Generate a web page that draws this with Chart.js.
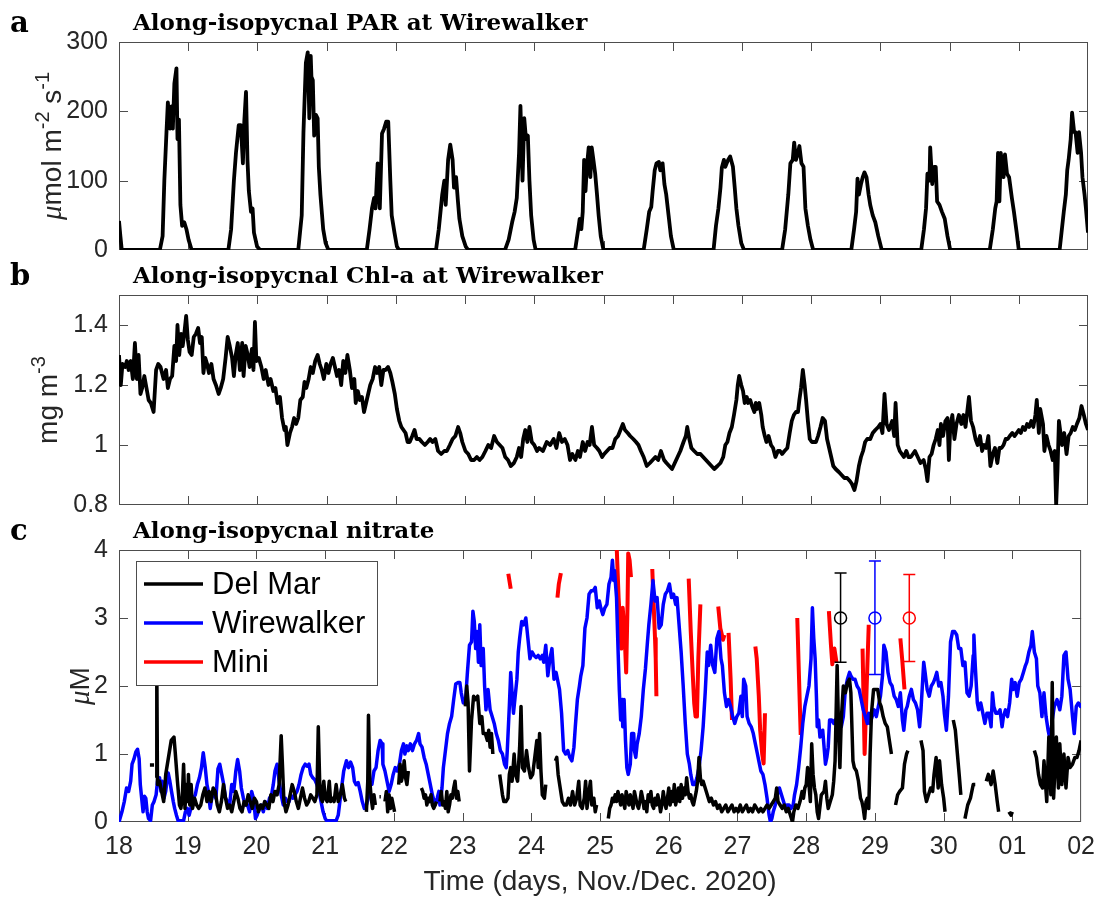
<!DOCTYPE html>
<html>
<head>
<meta charset="utf-8">
<script src="https://cdn.jsdelivr.net/npm/chart.js"></script>
<style>
  body { margin: 0; background: #fff; width: 1105px; height: 898px; overflow: hidden; position: relative; }
  canvas { position: absolute; left: 0; top: 0; }
</style>
</head>
<body>
<canvas id="pa" width="1105" height="898"></canvas>
<canvas id="pb" width="1105" height="898"></canvas>
<canvas id="pc" width="1105" height="898"></canvas>
<script>
// time axis: days since 18 Nov 2020
const dayLabels = ["18","19","20","21","22","23","24","25","26","27","28","29","30","01","02"]

// (a) PAR, umol m-2 s-1
const parTime = [0,0.02,0.04,
  0.59,0.63,0.655,0.686,0.706,0.737,0.758,0.778,0.80,0.83,0.845,0.866,0.887,0.912,0.943,0.974,1.005,1.05,
  1.58,1.62,1.66,1.69,1.73,1.76,1.79,1.81,1.835,1.856,1.876,1.907,1.93,1.95,1.995,2.04,
  2.59,2.64,2.665,2.70,2.727,2.75,2.77,2.78,2.80,2.82,2.845,2.87,2.887,2.91,2.95,2.985,3.026,
  3.58,3.62,3.655,3.686,3.706,3.737,3.768,3.80,3.83,3.86,3.89,3.92,3.94,3.98,4.015,4.046,
  4.58,4.62,4.67,4.70,4.72,4.755,4.786,4.82,4.84,4.87,4.897,4.918,4.96,5.01,5.046,
  5.577,5.63,5.68,5.716,5.747,5.78,5.80,5.83,5.855,5.88,5.907,5.93,5.955,5.99,6.02,
  6.59,6.635,6.656,6.68,6.70,6.72,6.74,6.76,6.786,6.81,6.83,6.854,6.88,6.906,6.93,6.96,7.0,
  7.58,7.625,7.66,7.69,7.71,7.74,7.766,7.80,7.82,7.854,7.88,7.906,7.94,7.974,8.016,
  8.59,8.625,8.66,8.69,8.71,8.74,8.76,8.80,8.83,8.87,8.896,8.92,8.95,8.99,9.03,
  9.58,9.625,9.67,9.70,9.734,9.755,9.78,9.81,9.83,9.86,9.89,9.917,9.953,9.99,10.03,
  10.58,10.62,10.65,10.67,10.69,10.72,10.745,10.77,10.80,10.83,10.854,10.89,10.927,10.97,11.02,
  11.59,11.63,11.66,11.68,11.71,11.72,11.75,11.776,11.80,11.82,11.854,11.89,11.93,11.97,12.01,
  12.58,12.625,12.66,12.68,12.70,12.72,12.74,12.78,12.80,12.83,12.86,12.90,12.93,12.97,13.0,
  13.59,13.65,13.68,13.70,13.72,13.75,13.77,13.80,13.82,13.85,13.87,13.90,13.92,13.95,13.97,14.0]
const parValue = [42,20,0,
  0,20,100,170,213,175,207,175,240,262,160,188,65,35,40,30,15,0,
  0,30,100,140,180,180,125,185,228,130,85,55,60,25,5,0,
  0,50,170,270,285,190,280,250,245,165,195,190,120,80,30,10,0,
  0,30,60,75,60,125,60,168,175,185,185,100,50,25,5,0,
  0,30,80,100,65,130,152,130,90,105,70,45,20,5,0,
  0,15,40,55,75,140,208,100,190,160,165,100,50,15,0,
  0,30,45,30,55,130,85,120,148,105,148,130,110,80,50,20,0,
  0,30,55,62,85,115,125,127,115,125,95,80,50,20,0,
  0,35,60,90,119,130,120,130,135,120,90,60,35,10,0,
  0,30,80,125,130,155,130,140,150,125,120,60,35,15,0,
  0,30,55,103,80,95,105,112,105,80,65,50,40,20,0,
  0,30,60,110,100,148,95,120,120,70,65,55,45,20,0,
  0,30,60,70,140,70,140,105,138,110,105,75,55,25,0,
  0,55,80,115,130,160,198,170,170,140,170,140,105,80,60,25]

// (b) Chl-a, mg m-3
const chlTime = [0,0.026,0.05,0.088,0.113,0.14,0.17,0.20,0.23,0.258,0.283,0.31,0.335,0.366,0.397,0.428,0.46,0.50,
  0.536,0.567,0.60,0.644,0.68,0.706,0.737,0.768,0.80,0.825,0.845,0.87,0.897,0.92,0.943,0.97,0.995,1.02,1.05,
  1.08,1.11,1.144,1.17,1.196,1.22,1.247,1.273,1.30,1.335,1.366,1.40,1.44,1.47,1.505,1.54,1.57,1.60,1.634,
  1.66,1.686,1.716,1.747,1.78,1.80,1.83,1.86,1.887,1.92,1.943,1.964,1.985,2.02,2.057,2.09,2.12,2.16,2.19,
  2.23,2.26,2.29,2.325,2.356,2.39,2.41,2.433,2.47,2.50,2.53,2.56,2.59,2.62,2.655,2.68,2.706,2.74,2.77,2.80,
  2.835,2.87,2.90,2.93,2.96,2.995,3.026,3.057,3.09,3.12,3.15,3.18,3.21,3.24,3.27,3.30,3.335,3.366,3.40,3.42,
  3.45,3.48,3.51,3.54,3.57,3.60,3.63,3.665,3.70,3.727,3.76,3.79,3.82,3.85,3.887,3.92,3.95,3.985,4.015,4.05,
  4.08,4.11,4.14,4.17,4.20,4.237,4.27,4.30,4.34,4.376,4.42,4.46,4.495,4.53,4.57,4.61,4.655,4.70,4.737,4.78,
  4.82,4.86,4.90,4.93,4.96,5.005,5.046,5.087,5.13,5.17,5.21,5.25,5.294,5.335,5.376,5.42,5.46,5.50,5.54,5.58,
  5.62,5.66,5.706,5.747,5.78,5.81,5.84,5.87,5.90,5.93,5.964,6.0,6.04,
  6.07,6.125,6.18,6.23,6.28,6.32,6.36,6.40,6.44,6.48,6.516,6.55,6.594,6.63,6.66,6.70,6.734,6.77,6.80,6.833,
  6.865,6.906,6.94,6.98,7.01,7.05,7.09,7.13,7.17,7.21,7.245,7.28,7.31,7.35,7.385,7.43,7.47,7.505,7.54,7.58,
  7.625,7.67,7.71,7.75,7.79,7.83,7.875,7.91,7.95,7.99,8.03,8.07,8.11,8.156,8.19,8.21,8.24,8.27,8.31,8.354,
  8.40,8.44,8.48,8.52,8.56,8.60,8.646,8.69,8.73,8.76,8.79,8.82,8.854,8.885,8.92,8.94,8.96,8.99,9.016,9.04,
  9.07,9.09,9.12,9.146,9.18,9.20,9.22,9.25,9.28,9.30,9.33,9.354,9.385,9.42,9.45,9.484,9.52,9.55,9.58,9.615,
  9.656,9.69,9.72,9.75,9.78,9.81,9.83,9.854,9.88,9.906,9.927,9.953,9.98,10.01,10.04,10.07,10.10,10.135,10.166,10.20,
  10.23,10.26,10.29,10.32,10.354,10.40,10.44,10.48,10.52,10.56,10.59,10.625,10.656,10.69,10.72,10.75,10.78,10.81,10.854,10.89,
  10.927,10.97,11.0,11.03,11.06,11.09,11.125,11.17,11.20,11.22,11.25,11.28,11.31,11.34,11.375,11.406,11.44,11.47,11.50,11.54,
  11.58,11.625,11.656,11.68,11.71,11.74,11.77,11.80,11.83,11.854,11.875,11.906,11.94,11.97,11.99,12.01,12.04,12.07,12.10,12.135,
  12.17,12.20,12.23,12.26,12.28,12.31,12.34,12.375,12.406,12.44,12.47,12.50,12.53,12.56,12.59,12.625,12.656,12.69,12.72,12.75,
  12.78,12.81,12.84,12.87,12.906,12.94,12.97,13.0,13.03,13.06,13.09,13.12,13.15,13.18,13.21,13.24,13.26,13.29,13.31,13.35,
  13.37,13.40,13.43,13.46,13.49,13.52,13.54,13.56,13.58,13.625,13.656,13.69,13.72,13.75,13.78,13.81,13.84,13.875,13.906,13.94,
  13.97,14.0]
const chlValue = [1.30,1.20,1.27,1.26,1.28,1.25,1.28,1.22,1.34,1.22,1.30,1.17,1.19,1.23,1.19,1.15,1.14,1.11,
  1.25,1.27,1.26,1.22,1.25,1.19,1.22,1.23,1.33,1.28,1.40,1.30,1.37,1.33,1.37,1.43,1.35,1.31,1.30,
  1.36,1.37,1.39,1.34,1.36,1.24,1.29,1.27,1.24,1.27,1.22,1.20,1.17,1.19,1.22,1.29,1.36,1.33,1.29,
  1.23,1.30,1.34,1.25,1.34,1.23,1.33,1.30,1.26,1.32,1.25,1.41,1.28,1.29,1.26,1.22,1.25,1.20,1.22,
  1.18,1.19,1.14,1.16,1.09,1.05,1.06,1.00,1.04,1.06,1.09,1.07,1.09,1.15,1.16,1.21,1.19,1.22,1.26,1.24,
  1.28,1.30,1.27,1.25,1.22,1.27,1.24,1.27,1.29,1.26,1.23,1.25,1.20,1.28,1.24,1.30,1.25,1.19,1.22,1.14,
  1.18,1.15,1.16,1.11,1.14,1.17,1.20,1.22,1.26,1.24,1.26,1.20,1.25,1.25,1.26,1.24,1.21,1.17,1.12,1.08,
  1.06,1.05,1.04,1.01,1.01,1.03,1.05,1.02,1.02,1.01,1.00,1.01,1.02,1.01,1.02,0.98,0.97,0.98,0.98,1.00,
  1.02,1.03,1.06,1.04,1.01,0.98,0.97,0.95,0.95,0.96,0.95,0.96,0.98,1.00,0.99,1.03,1.01,1.00,0.99,0.96,
  0.95,0.93,0.94,0.96,0.99,0.96,1.02,1.05,1.01,1.06,1.01,1.00,0.98,
  0.99,0.98,1.01,1.00,1.02,0.99,1.04,1.01,1.02,1.00,0.95,0.97,0.95,0.98,0.96,1.01,0.98,1.01,1.00,1.06,
  1.00,0.99,0.98,0.96,0.97,0.98,0.99,0.99,1.02,1.03,1.05,1.07,1.05,1.04,1.03,1.02,1.01,1.00,0.98,0.96,
  0.93,0.94,0.95,0.96,0.95,0.98,0.95,0.94,0.93,0.92,0.94,0.96,0.98,1.01,1.03,1.06,1.02,0.99,0.98,0.97,
  0.97,0.96,0.95,0.94,0.93,0.92,0.93,0.94,0.96,1.00,1.01,1.04,1.06,1.10,1.15,1.20,1.23,1.20,1.18,1.14,
  1.16,1.14,1.15,1.13,1.11,1.14,1.12,1.14,1.10,1.06,1.03,1.01,1.03,1.00,0.99,0.96,0.98,0.98,0.97,0.98,
  0.99,1.04,1.08,1.10,1.11,1.11,1.15,1.19,1.25,1.20,1.15,1.08,1.02,1.01,1.01,1.01,1.03,1.06,1.09,1.08,
  1.02,0.99,0.96,0.93,0.92,0.91,0.90,0.89,0.89,0.88,0.87,0.85,0.88,0.93,0.96,0.98,1.01,1.02,1.02,1.04,
  1.05,1.06,1.07,1.04,1.17,1.07,1.05,1.08,1.03,1.14,1.00,0.98,0.97,0.96,0.98,0.96,0.96,0.97,0.98,0.96,
  0.94,0.95,0.92,0.88,0.96,0.97,1.00,1.02,1.05,1.00,1.07,1.03,1.08,1.09,0.95,1.06,1.10,1.02,1.07,1.10,
  1.07,1.10,1.06,1.12,1.16,1.08,1.06,1.02,1.00,1.03,0.98,1.00,0.99,1.03,0.93,0.97,0.99,0.94,0.99,0.99,
  1.00,1.02,1.02,1.03,1.04,1.03,1.04,1.05,1.04,1.06,1.05,1.07,1.06,1.08,1.06,1.10,1.15,1.04,1.12,1.07,
  0.98,1.03,1.00,0.98,0.95,0.98,0.80,0.92,1.08,1.00,1.04,0.97,1.03,1.04,1.06,1.05,1.07,1.09,1.13,1.10,
  1.07,1.05]

// (c) nitrate, uM  (null = no data)
const delMarTime = [0.45,0.51,0.52,
  0.54,0.55,0.56,0.59,0.62,0.65,0.68,0.72,0.76,0.80,0.82,0.85,0.88,0.90,0.92,0.94,0.96,0.98,1.00,1.01,1.03,1.05,1.07,
  1.10,1.13,1.16,1.19,1.22,1.25,1.28,1.31,1.34,1.37,1.40,1.43,1.46,1.49,1.52,1.55,1.58,1.61,1.64,1.67,1.70,1.73,1.76,
  1.79,1.82,1.85,1.88,1.91,1.94,1.97,2.00,2.03,2.06,2.09,2.12,2.15,2.18,2.21,2.24,2.27,2.30,2.33,2.36,2.38,2.40,2.43,
  2.46,2.49,2.52,2.55,2.58,2.61,2.64,2.67,2.70,2.73,2.76,2.79,2.82,2.85,2.88,2.90,2.92,2.94,2.96,2.98,3.00,3.03,3.06,
  3.08,3.10,3.13,3.16,3.19,3.22,3.25,3.28,3.30,3.31,
  3.60,3.62,3.63,3.65,3.67,3.69,3.71,3.73,3.74,
  3.79,3.81,3.82,
  3.87,3.89,3.91,3.93,3.95,3.97,3.99,4.01,4.02,
  4.07,4.09,4.11,4.13,4.15,4.17,4.19,4.21,4.22,
  4.40,4.42,4.44,4.46,4.48,4.50,4.52,4.54,4.56,4.58,4.60,4.62,4.63,
  4.67,4.69,4.71,4.73,4.75,4.77,4.79,4.81,4.83,4.85,4.87,4.89,4.91,4.93,4.95,4.96,
  5.04,5.06,5.08,5.10,5.13,5.16,5.19,5.22,5.25,5.28,5.30,5.33,5.36,5.38,5.40,5.42,5.44,5.45,
  5.54,5.56,5.58,5.60,5.63,5.66,5.68,5.70,5.72,5.75,5.77,5.80,5.83,5.85,5.87,5.90,5.93,5.96,5.99,6.02,6.05,6.08,
  6.10,6.12,6.14,6.16,6.19,6.21,6.22,
  6.35,6.37,6.39,6.42,6.45,6.48,6.51,6.54,6.57,6.60,6.63,6.66,6.69,6.71,6.74,6.77,6.79,6.81,6.84,6.86,6.88,6.91,
  6.93,6.95,6.96,
  7.12,7.14,7.16,7.18,7.20,7.22,7.24,7.26,7.28,7.30,7.32,7.34,7.36,7.38,7.40,7.42,7.44,7.46,7.48,7.50,7.52,7.54,
  7.56,7.58,7.60,7.62,7.64,7.66,7.68,7.70,7.72,7.74,7.76,7.78,7.80,7.82,7.84,7.86,7.88,7.90,7.92,7.94,7.96,7.98,
  8.00,8.02,8.04,8.06,8.08,8.10,8.12,8.14,8.16,8.18,8.20,8.22,8.24,8.26,8.28,8.30,8.32,8.34,8.36,8.38,8.40,8.42,
  8.44,8.46,8.48,8.50,8.53,8.56,8.59,8.62,8.65,8.68,8.71,8.74,8.77,8.80,8.83,8.86,8.89,8.92,8.95,8.98,9.01,9.04,
  9.07,9.10,9.13,9.16,9.19,9.22,9.25,9.28,9.31,9.34,9.37,9.40,9.43,9.46,9.49,9.52,9.55,9.57,9.59,9.62,9.65,9.68,
  9.71,9.74,9.77,9.80,9.82,9.85,9.88,9.91,9.94,9.96,9.98,10.00,10.02,10.04,10.06,10.08,10.10,10.12,10.14,10.16,
  10.18,10.22,10.26,10.28,10.30,10.32,10.35,10.38,10.40,10.42,10.45,10.47,10.49,10.51,10.54,10.57,10.60,10.63,
  10.65,10.68,10.70,10.73,10.76,10.79,10.81,10.83,10.85,10.87,10.89,10.91,10.93,10.95,10.98,11.02,11.04,11.07,
  11.09,11.12,11.15,11.18,11.21,11.24,11.25,
  11.30,11.33,11.36,11.40,11.43,11.46,11.48,11.49,
  11.67,11.70,11.72,11.75,11.78,11.81,11.84,11.86,11.89,11.92,11.94,11.97,12.00,12.02,12.03,
  12.14,12.17,12.20,12.23,12.25,12.26,
  12.31,12.35,12.39,12.43,12.46,12.47,
  12.62,12.65,12.69,12.72,12.75,12.78,12.80,12.81,
  12.95,12.98,13.00,13.01,
  13.32,13.35,13.38,13.41,13.44,13.46,13.50,13.53,13.56,13.58,13.60,13.64,13.67,13.69,13.72,13.75,13.78,13.81,
  13.84,13.875,13.91,13.94,13.97,14.0]
const delMarValue = [0.84,0.84,null,
  0.65,2.30,0.55,0.60,0.45,0.30,0.70,0.95,1.20,1.25,1.00,0.60,0.25,0.20,0.35,0.85,0.20,0.55,0.30,0.70,0.25,0.55,0.20,
  0.35,0.25,0.20,0.25,0.40,0.50,0.30,0.45,0.30,0.50,0.45,0.25,0.15,0.30,0.55,0.35,0.20,0.25,0.15,0.30,0.45,0.35,0.20,
  0.15,0.30,0.25,0.40,0.30,0.20,0.35,0.30,0.15,0.25,0.20,0.30,0.25,0.20,0.40,0.30,0.45,0.40,0.55,1.27,0.80,0.30,0.15,
  0.25,0.40,0.55,0.45,0.30,0.20,0.35,0.50,0.35,0.25,0.30,0.40,0.35,0.30,0.40,1.40,0.60,0.35,0.30,0.60,0.35,0.30,0.60,
  0.30,0.35,0.30,0.55,0.30,0.40,0.55,0.35,0.30,null,
  0.15,0.60,1.57,0.60,0.35,0.20,0.40,0.25,null,
  0.37,0.37,null,
  0.30,0.45,0.15,0.40,0.20,0.35,0.25,0.15,null,
  0.55,0.85,0.60,0.70,0.90,0.65,0.55,0.75,null,
  0.50,0.45,0.35,0.40,0.25,0.35,0.30,0.40,0.25,0.20,0.25,0.30,null,
  0.30,0.45,0.25,0.30,0.20,0.45,0.15,0.25,0.40,0.35,0.50,0.60,0.35,0.45,0.30,null,
  1.70,2.00,1.75,0.75,1.50,1.85,1.80,1.85,1.45,1.55,1.30,1.30,1.20,1.35,1.10,1.30,1.00,null,
  0.70,0.55,0.40,0.30,0.30,0.35,0.70,0.80,0.60,1.00,0.70,0.60,1.10,1.70,0.80,0.75,1.05,0.80,0.65,0.70,0.95,1.20,
  0.80,1.30,0.75,0.40,0.35,0.55,null,
  0.90,0.95,0.70,0.50,0.30,0.25,0.25,0.35,0.25,0.45,0.25,0.35,0.60,0.25,0.20,0.35,0.60,0.20,0.45,0.60,0.25,0.35,
  0.15,0.25,null,
  0.05,0.20,0.25,0.35,0.30,0.40,0.30,0.45,0.35,0.25,0.40,0.30,0.20,0.45,0.35,0.25,0.40,0.30,0.20,0.45,0.35,0.25,
  0.20,0.30,0.45,0.35,0.20,0.30,0.15,0.40,0.30,0.45,0.25,0.20,0.35,0.25,0.40,0.30,0.15,0.25,0.45,0.30,0.20,0.35,
  0.50,0.25,0.45,0.30,0.55,0.25,0.35,0.50,0.30,0.55,0.35,0.50,0.40,0.65,0.45,0.35,0.40,0.30,0.25,0.35,0.45,0.60,
  0.95,0.65,0.55,0.60,0.50,0.40,0.30,0.35,0.25,0.30,0.20,0.25,0.15,0.20,0.25,0.15,0.20,0.25,0.15,0.20,0.15,0.25,
  0.15,0.20,0.25,0.15,0.20,0.15,0.25,0.20,0.15,0.20,0.15,0.20,0.25,0.20,0.25,0.30,0.35,0.50,0.30,0.25,0.20,0.25,
  0.15,0.20,0.10,0.00,0.15,0.25,0.20,0.30,0.45,0.35,0.50,0.55,0.80,0.55,0.30,1.15,0.70,0.50,0.40,0.15,
  0.05,0.40,0.45,0.60,0.35,0.20,0.30,0.40,0.60,0.90,2.30,1.40,0.80,1.50,2.00,1.90,2.05,2.10,
  1.90,0.90,0.80,0.75,0.60,0.35,0.30,0.20,0.05,0.30,0.35,0.20,1.00,1.60,1.95,1.95,1.95,1.75,
  1.70,1.55,1.45,1.40,1.20,1.00,null,
  0.25,0.40,0.45,0.50,0.85,1.00,1.05,null,
  1.20,1.05,0.45,0.30,0.40,0.50,0.45,0.70,0.95,0.50,0.90,0.55,0.35,0.15,null,
  1.50,1.35,1.00,0.65,0.40,null,
  0.05,0.25,0.35,0.55,0.55,null,
  0.60,0.70,0.55,0.75,0.55,0.30,0.15,null,
  0.15,0.10,0.15,null,
  1.05,0.95,0.70,0.55,0.50,0.90,0.30,1.25,0.40,2.05,0.35,1.25,0.50,1.15,0.55,1.00,0.50,0.95,
  0.80,0.85,0.95,0.95,1.05,1.20]

const wirewalkerTime = [0,0.043,0.077,0.11,0.14,0.17,0.19,0.216,0.245,0.27,0.293,0.31,0.33,0.35,0.37,0.39,0.41,0.43,0.46,
  0.485,0.51,0.54,0.56,0.59,0.61,0.63,0.654,0.68,0.70,0.716,0.74,0.764,0.79,0.81,0.836,0.86,0.90,0.94,0.966,0.995,
  1.02,1.05,1.08,1.11,1.14,1.17,1.20,1.226,1.255,1.28,1.30,1.327,1.35,1.38,1.41,1.44,1.466,1.495,1.524,1.55,1.58,
  1.61,1.64,1.67,1.70,1.726,1.755,1.78,1.81,1.84,1.87,1.90,1.93,1.957,1.986,2.01,2.04,2.07,2.10,2.13,2.16,2.19,
  2.22,2.245,2.27,2.30,2.33,2.36,2.39,2.42,2.45,2.476,2.50,2.53,2.56,2.59,2.62,2.65,2.68,2.71,2.74,2.765,2.79,2.82,
  2.85,2.88,2.91,2.94,2.97,3.0,3.02,3.06,3.10,3.13,3.16,3.19,3.22,3.245,3.27,3.31,3.34,3.37,3.40,3.425,3.45,3.48,
  3.51,3.54,3.57,3.60,3.625,3.65,3.68,3.71,3.74,3.77,3.80,3.83,3.84,3.87,3.90,3.93,3.96,3.99,4.02,4.05,4.08,4.11,
  4.14,4.16,4.19,4.21,4.24,4.27,4.30,4.33,4.36,4.38,4.41,4.44,4.47,4.50,4.53,4.56,4.60,4.63,4.655,4.67,4.70,4.72,
  4.75,4.78,4.81,4.84,4.87,4.90,4.93,4.96,4.98,5.01,5.04,5.07,5.10,5.13,5.15,5.17,5.19,5.21,5.23,5.25,5.27,5.30,
  5.32,5.34,5.37,5.40,5.43,5.46,5.49,5.52,5.55,5.58,5.61,5.635,5.65,5.68,5.70,5.72,5.74,5.76,5.79,5.81,5.83,5.86,
  5.89,5.92,5.95,5.98,6.01,6.04,6.07,6.10,6.13,6.16,6.18,6.21,6.24,6.27,6.30,6.33,6.36,6.39,6.41,6.44,6.47,6.50,
  6.53,6.56,6.59,6.62,6.64,6.67,6.70,6.72,6.75,6.78,6.81,6.84,6.87,6.90,6.93,6.96,6.99,7.01,7.04,7.07,7.10,7.13,
  7.16,7.18,7.20,7.21,7.24,7.26,7.28,7.30,7.32,7.33,7.35,7.37,7.39,7.41,7.44,7.46,7.49,7.50,7.52,7.54,7.57,7.60,
  7.63,7.66,7.69,7.71,7.74,7.77,7.80,7.83,7.86,7.89,7.92,7.95,7.98,8.01,8.04,8.07,8.10,8.12,8.15,8.18,8.21,8.24,
  8.27,8.30,8.32,8.35,8.38,8.41,8.44,8.47,8.50,8.53,8.56,8.58,8.61,8.64,8.67,8.70,8.73,8.76,8.78,8.81,8.84,8.87,
  8.90,8.93,8.96,8.99,9.02,9.05,9.07,9.09,9.12,9.14,9.17,9.20,9.23,9.26,9.29,9.31,9.34,9.37,9.40,9.43,9.46,9.48,
  9.50,9.52,9.55,9.58,9.61,9.64,9.67,9.70,9.72,9.75,9.78,9.81,9.83,9.86,9.89,9.92,9.95,9.98,10.01,10.04,10.07,
  10.09,10.11,10.13,10.15,10.16,10.18,10.20,10.22,10.24,10.26,10.28,10.30,10.32,10.34,10.37,10.40,10.42,10.45,
  10.48,10.51,10.54,10.57,10.60,10.63,10.65,10.68,10.71,10.74,10.77,10.80,10.83,10.86,10.89,10.91,10.93,10.96,
  10.99,11.02,11.05,11.08,11.11,11.13,11.16,11.19,11.22,11.25,11.28,11.31,11.34,11.37,11.40,11.42,11.45,11.47,
  11.50,11.53,11.56,11.59,11.62,11.65,11.67,11.71,11.73,11.76,11.79,11.82,11.85,11.87,11.90,11.93,11.96,11.99,
  12.01,12.04,12.07,12.10,12.13,12.16,12.19,12.22,12.25,12.28,12.31,12.34,12.37,12.40,12.43,12.44,12.46,12.49,
  12.51,12.54,12.57,12.60,12.63,12.66,12.69,12.71,12.73,12.76,12.79,12.82,12.85,12.87,12.90,12.93,12.96,12.99,
  13.01,13.04,13.07,13.10,13.13,13.16,13.19,13.21,13.24,13.27,13.29,13.32,13.35,13.37,13.40,13.43,13.46,13.49,
  13.52,13.55,13.58,13.61,13.65,13.69,13.72,13.75,13.78,13.81,13.84,13.875,13.90,13.93,13.96,13.99,14.0]
const wirewalkerValue = [0,0.15,0.30,0.50,0.45,0.60,0.85,0.92,1.03,1.07,0.93,0.55,0.35,0.15,0.38,0.35,0.15,0.05,0.02,
  0.25,0.30,0.40,0.60,0.65,0.45,0.60,0.35,0.45,0.62,0.72,0.60,0.45,0.30,0.20,0.10,0.02,0.02,0.02,0.15,0.20,
  0.10,0.22,0.35,0.40,0.55,0.65,0.80,1.02,0.80,0.55,0.45,0.20,0.35,0.45,0.35,0.78,0.85,0.70,0.55,0.35,0.30,
  0.25,0.55,0.45,0.75,0.92,0.75,0.50,0.35,0.25,0.25,0.15,0.45,0.35,0.05,0.10,0.20,0.25,0.15,0.30,0.20,0.35,
  0.40,0.55,0.75,0.85,0.60,0.40,0.25,0.35,0.30,0.30,0.40,0.35,0.40,0.45,0.55,0.70,0.80,0.85,0.82,0.85,0.70,0.65,
  0.62,0.55,0.45,0.30,0.15,0.05,0.02,0.02,0.02,0.02,0.02,0.10,0.35,0.55,0.75,0.90,0.80,0.88,0.80,0.60,0.55,0.58,
  0.45,0.30,0.20,0.25,0.35,0.55,0.55,0.75,0.80,1.05,1.20,1.15,0.85,0.75,0.60,0.45,0.55,0.70,0.80,0.75,0.85,1.05,
  1.15,1.00,1.12,1.05,1.15,1.05,1.15,1.20,1.30,1.15,1.10,0.95,0.85,0.70,0.55,0.40,0.25,0.35,0.45,0.25,0.50,0.80,
  1.05,1.30,1.45,1.55,1.80,2.03,2.05,2.05,1.90,1.75,1.75,2.20,2.60,2.65,3.10,2.95,2.55,2.80,2.35,2.90,2.30,2.55,
  2.00,1.65,1.95,1.65,1.55,1.45,1.30,1.20,1.05,1.00,0.85,0.80,1.05,1.70,2.20,1.90,1.60,1.80,2.10,2.50,2.70,2.95,
  2.90,3.00,2.70,2.40,2.50,2.45,2.42,2.45,2.40,2.45,2.35,2.60,2.15,2.40,2.55,2.10,2.20,2.05,1.95,1.60,1.05,1.00,
  1.05,0.95,0.90,1.10,1.40,1.80,2.00,2.15,2.30,2.85,3.00,3.35,3.40,3.40,3.45,3.15,3.25,3.15,3.05,3.15,3.20,3.50,
  3.60,3.85,3.55,3.70,3.30,2.60,1.95,1.50,1.80,1.40,1.80,1.20,0.80,0.70,0.85,1.30,1.30,1.05,0.95,1.15,1.30,1.55,
  1.95,2.25,2.65,2.90,3.20,3.55,3.25,3.30,2.85,2.90,3.20,3.35,3.40,3.50,3.30,3.35,3.20,3.30,2.90,2.50,2.00,1.45,
  1.00,0.85,0.70,0.55,0.55,0.65,0.80,1.05,1.40,1.90,2.50,2.30,2.60,2.30,2.20,2.70,2.80,2.40,2.30,1.90,1.70,1.80,
  1.70,1.55,1.45,1.55,1.60,1.85,1.55,2.10,2.00,1.55,1.45,1.40,1.30,1.15,1.00,0.90,0.75,0.70,0.55,0.35,0.10,0,
  0.05,0.15,0.25,0.40,0.50,0.40,0.30,0.20,0.25,0.25,0.20,0.25,0.40,0.55,0.80,1.10,1.45,1.70,1.85,2.00,2.40,
  3.15,2.70,2.40,1.80,1.40,1.50,1.25,1.30,1.35,1.10,0.85,0.95,1.10,1.50,1.50,1.45,1.50,1.45,
  1.50,1.40,1.55,1.95,2.10,2.20,2.15,2.10,2.10,2.00,1.95,1.80,1.65,1.55,1.45,1.60,1.45,1.55,
  1.65,1.55,1.70,1.85,2.15,2.60,2.50,2.20,2.05,2.00,1.85,1.80,1.70,1.90,1.50,1.35,1.65,1.70,
  1.85,1.95,1.80,1.75,1.65,1.40,1.65,2.35,2.20,1.95,1.85,2.00,2.05,2.10,2.20,2.00,2.05,1.85,
  1.60,1.35,1.85,2.65,2.80,2.80,2.75,2.55,2.55,2.30,2.35,1.90,1.85,2.00,2.45,2.75,2.30,1.75,
  1.65,1.75,1.60,1.45,1.60,1.60,1.40,1.90,1.70,1.60,1.60,1.65,1.40,1.55,1.65,1.55,1.75,2.10,
  1.95,2.05,1.85,2.05,2.10,2.20,2.30,2.35,2.50,2.60,2.80,2.50,2.40,2.00,1.90,1.55,1.90,1.55,
  1.35,1.20,1.50,1.70,1.80,1.65,1.85,2.45,2.50,2.10,1.95,1.55,1.30,1.70,1.75,1.70,1.75]

const miniTime = [5.665,5.70,5.71,
  6.38,6.40,6.43,6.44,
  7.24,7.27,7.31,7.33,7.36,7.38,7.40,7.41,7.43,7.45,7.46,
  7.76,7.78,7.80,7.81,7.82,7.83,
  8.29,8.32,8.35,8.37,8.39,8.41,8.43,8.46,8.47,
  8.72,8.75,8.79,8.81,8.82,
  8.87,8.90,8.92,8.93,
  9.26,9.28,9.31,9.33,9.36,9.38,9.40,9.41,
  9.87,9.89,9.92,9.93,
  10.33,10.36,10.38,10.41,10.44,10.45,
  10.82,10.85,10.88,10.91,10.92,
  11.37,11.40,11.43]
const miniValue = [3.65,3.43,null,
  3.30,3.50,3.66,null,
  4.10,3.30,2.55,3.15,2.70,2.20,3.20,3.95,3.85,3.60,null,
  3.72,3.20,2.70,2.40,1.85,null,
  3.58,2.80,2.15,1.75,1.55,1.55,2.40,3.20,null,
  3.17,2.85,2.68,2.75,null,
  2.78,2.10,1.50,null,
  2.58,2.40,1.85,1.35,1.00,0.86,1.60,null,
  3.00,2.30,1.28,null,
  3.10,2.60,2.32,2.55,2.35,null,
  2.55,1.00,2.00,2.90,null,
  2.70,2.35,1.95]

// mean +/- spread markers (Del Mar, Wirewalker, Mini)
const errTime = [10.5, 11.0, 11.5]
const errMean = [3.0, 3.0, 3.0]
const errLow = [2.35, 2.17, 2.36]
const errHigh = [3.66, 3.84, 3.64]
const errColors = ["#000000", "#0000ff", "#ff0000"]

const legendLabels = ["Del Mar", "Wirewalker", "Mini"]

const SANS = '"Liberation Sans", Arial, sans-serif'
const SERIF = '"DejaVu Serif", serif'
const TXT = "#262626"

function pts(xs, ys) {
  return xs.map((t, i) => ({ x: t, y: ys[i] }))
}

// rotated y label, made of runs (some italic, some superscript)
function drawYLabel(ctx, runs, bx, cy) {
  ctx.save()
  ctx.translate(bx, cy)
  ctx.rotate(-Math.PI / 2)
  ctx.fillStyle = TXT
  ctx.textBaseline = "alphabetic"
  const fontOf = (r) => r.mu ? 'italic 29px "Liberation Serif"' : (r.sup ? "20px " + SANS : "28px " + SANS)
  let total = 0
  runs.forEach((r) => { ctx.font = fontOf(r); r.w = ctx.measureText(r.t).width; total += r.w })
  let x = -total / 2
  runs.forEach((r) => { ctx.font = fontOf(r); ctx.fillText(r.t, x, r.sup ? -12 : 0); x += r.w })
  ctx.restore()
}

function decor(cfg) {
  return {
    id: "decor",
    beforeDatasetsDraw(chart) {
      const { ctx, chartArea: a, scales: { x, y } } = chart
      ctx.save()
      ctx.strokeStyle = "#4d4d4d"
      ctx.lineWidth = 1
      ctx.strokeRect(a.left + 0.5, a.top + 0.5, a.right - a.left - 1, a.bottom - a.top - 1)
      ctx.beginPath()
      for (let d = 1; d < 14; d++) {
        const px = Math.round(x.getPixelForValue(d)) + 0.5
        ctx.moveTo(px, a.top); ctx.lineTo(px, a.top + 9)
        ctx.moveTo(px, a.bottom); ctx.lineTo(px, a.bottom - 9)
      }
      cfg.yTicks.forEach((v) => {
        const py = Math.round(y.getPixelForValue(v)) + 0.5
        ctx.moveTo(a.left, py); ctx.lineTo(a.left + 9, py)
        ctx.moveTo(a.right, py); ctx.lineTo(a.right - 9, py)
      })
      ctx.stroke()
      ctx.restore()
    },
    afterDraw(chart) {
      const { ctx, chartArea: a } = chart
      ctx.save()
      ctx.fillStyle = "#000"
      ctx.textBaseline = "alphabetic"
      ctx.font = "bold 29px " + SERIF
      ctx.fillText(cfg.letter, 10, a.top - 10)
      ctx.font = "bold 23px " + SERIF
      ctx.fillText(cfg.title, 133, a.top - 12)
      ctx.restore()
      drawYLabel(ctx, cfg.ylabel, cfg.labelX, (a.top + a.bottom) / 2)
    }
  }
}

function baseOptions(top, bottom, ymin, ymax, ticks, fmt, showX) {
  return {
    responsive: false,
    animation: false,
    layout: { padding: { left: 0, right: 17, top: top, bottom: bottom } },
    plugins: { legend: { display: false }, tooltip: { enabled: false } },
    elements: { point: { radius: 0 }, line: { tension: 0, borderJoinStyle: "round", borderCapStyle: "butt" } },
    scales: {
      x: {
        type: "linear", min: 0, max: 14, display: showX,
        grid: { display: false, drawTicks: false }, border: { display: false },
        ticks: {
          stepSize: 1, autoSkip: false, maxRotation: 0, padding: 10, color: TXT,
          font: { family: SANS, size: 25 },
          callback: (v) => dayLabels[v]
        },
        afterFit: (s) => { s.height = showX ? 76 : 0 }
      },
      y: {
        min: ymin, max: ymax,
        grid: { display: false, drawTicks: false }, border: { display: false },
        ticks: { padding: 11, color: TXT, font: { family: SANS, size: 25 }, callback: fmt },
        afterBuildTicks: (s) => { s.ticks = ticks.map((v) => ({ value: v })) },
        afterFit: (s) => { s.width = 119 }
      }
    }
  }
}

// panel a
new Chart(document.getElementById("pa"), {
  type: "line",
  data: { datasets: [{ data: pts(parTime, parValue), borderColor: "#000", borderWidth: 3.8 }] },
  options: baseOptions(42, 648, 0, 300, [0, 100, 200, 300], (v) => String(v), false),
  plugins: [decor({
    yTicks: [100, 200], letter: "a", title: "Along-isopycnal PAR at Wirewalker", labelX: 61,
    ylabel: [{ t: "\u03bc", mu: true }, { t: "mol m" }, { t: "-2", sup: true }, { t: " s" }, { t: "-1", sup: true }]
  })]
})

// panel b
new Chart(document.getElementById("pb"), {
  type: "line",
  data: { datasets: [{ data: pts(chlTime, chlValue), borderColor: "#000", borderWidth: 3.8 }] },
  options: baseOptions(295, 393, 0.8, 1.5, [0.8, 1.0, 1.2, 1.4], (v) => String(+v.toFixed(1)), false),
  plugins: [decor({
    yTicks: [1.0, 1.2, 1.4], letter: "b", title: "Along-isopycnal Chl-a at Wirewalker", labelX: 57,
    ylabel: [{ t: "mg m" }, { t: "-3", sup: true }]
  })]
})

// panel c: error bars + legend + x title
const extras = {
  id: "extras",
  afterDatasetsDraw(chart) {
    const { ctx, scales: { x, y } } = chart
    ctx.save()
    ctx.lineWidth = 1.5
    errTime.forEach((t, i) => {
      const px = x.getPixelForValue(t)
      const y1 = y.getPixelForValue(errLow[i])
      const y2 = y.getPixelForValue(errHigh[i])
      ctx.strokeStyle = errColors[i]
      ctx.beginPath()
      ctx.moveTo(px, y1); ctx.lineTo(px, y2)
      ctx.moveTo(px - 6, y1); ctx.lineTo(px + 6, y1)
      ctx.moveTo(px - 6, y2); ctx.lineTo(px + 6, y2)
      ctx.stroke()
    })
    // legend box
    ctx.fillStyle = "#fff"
    ctx.fillRect(136, 561, 242, 125)
    ctx.strokeStyle = "#4d4d4d"
    ctx.lineWidth = 1
    ctx.strokeRect(136.5, 561.5, 241, 124)
    ctx.font = "31px " + SANS
    ctx.textBaseline = "middle"
    legendLabels.forEach((lab, i) => {
      const ly = 584 + i * 39
      ctx.strokeStyle = errColors[i]
      ctx.lineWidth = 3.5
      ctx.beginPath(); ctx.moveTo(144, ly); ctx.lineTo(203, ly); ctx.stroke()
      ctx.fillStyle = "#000"
      ctx.fillText(lab, 212, ly + 1)
    })
    ctx.restore()
  },
  afterDraw(chart) {
    const { ctx, chartArea: a } = chart
    ctx.save()
    ctx.fillStyle = TXT
    ctx.font = "28px " + SANS
    ctx.textAlign = "center"
    ctx.textBaseline = "alphabetic"
    ctx.fillText("Time (days, Nov./Dec. 2020)", (a.left + a.right) / 2, 890)
    ctx.restore()
  }
}

new Chart(document.getElementById("pc"), {
  type: "line",
  data: {
    datasets: [
      { data: pts(delMarTime, delMarValue), borderColor: "#000", borderWidth: 3.5 },
      { data: pts(wirewalkerTime, wirewalkerValue), borderColor: "#0000ff", borderWidth: 3.5 },
      { data: pts(miniTime, miniValue), borderColor: "#ff0000", borderWidth: 4, clip: 0 },
      {
        type: "scatter", data: pts(errTime, errMean), showLine: false,
        pointRadius: 6, pointStyle: "circle", pointBorderWidth: 1.5,
        pointBorderColor: errColors, pointBackgroundColor: "rgba(0,0,0,0)"
      }
    ]
  },
  options: baseOptions(550, 0, 0, 4, [0, 1, 2, 3, 4], (v) => String(v), true),
  plugins: [decor({
    yTicks: [1, 2, 3], letter: "c", title: "Along-isopycnal nitrate", labelX: 89,
    ylabel: [{ t: "\u03bc", mu: true }, { t: "M" }]
  }), extras]
})
</script>
</body>
</html>
